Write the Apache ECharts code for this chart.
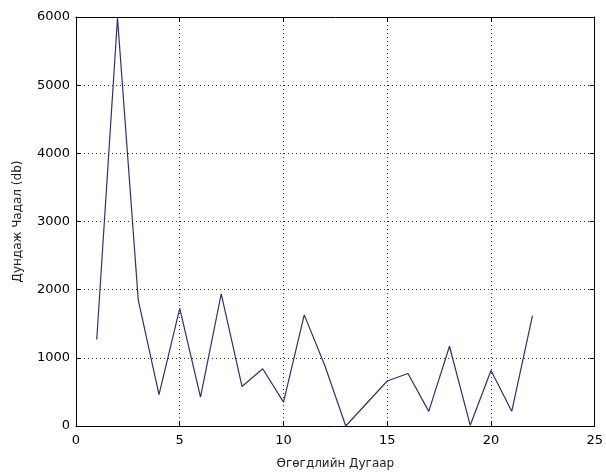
<!DOCTYPE html>
<html>
<head>
<meta charset="utf-8">
<script src="https://cdn.jsdelivr.net/npm/echarts@6/dist/echarts.min.js"></script>
<style>
html,body{margin:0;padding:0;background:#fff;}
#c{width:606px;height:475px;}
</style>
</head>
<body>
<div id="c"></div>
<script>
const xValues = [1,2,3,4,5,6,7,8,9,10,11,12,13,14,15,16,17,18,19,20,21,22];
const powerValues = [1268,5985,1850,460,1727,425,1940,580,840,350,1630,880,0,330,660,770,215,1170,10,815,215,1620];
const xTicks = [0,5,10,15,20,25];
const yTicks = [0,1000,2000,3000,4000,5000,6000];
const xTitle = 'Өгөгдлийн Дугаар';
const yTitle = 'Дундаж Чадал (db)';

const chart = echarts.init(document.getElementById('c'), null, {renderer:'canvas'});
const font = 'DejaVu Sans';
const axisLineStyle = {color:'#000', width:1};
const gridLine = {show:true, lineStyle:{color:'#333', type:[1,3], width:1}};
const plain = v => String(v);
const option = {
  animation:false,
  backgroundColor:'#fff',
  grid:{left:76, right:8, top:17, bottom:48, containLabel:false},
  xAxis:[{
    type:'value', min:xTicks[0], max:xTicks[xTicks.length-1], interval:5,
    position:'bottom',
    axisLine:{show:true, onZero:false, lineStyle:axisLineStyle},
    axisTick:{show:true, inside:true, length:5, lineStyle:axisLineStyle},
    axisLabel:{color:'#000', fontFamily:font, fontSize:13, margin:8, formatter:plain},
    splitLine:gridLine,
    name:xTitle, nameLocation:'middle', nameGap:32,
    nameTextStyle:{color:'#222', fontFamily:font, fontSize:12}
  },{
    type:'value', min:xTicks[0], max:xTicks[xTicks.length-1], interval:5,
    position:'top',
    axisLine:{show:true, onZero:false, lineStyle:axisLineStyle},
    axisTick:{show:true, inside:true, length:5, lineStyle:axisLineStyle},
    axisLabel:{show:false}, splitLine:{show:false}
  }],
  yAxis:[{
    type:'value', min:yTicks[0], max:yTicks[yTicks.length-1], interval:1000,
    position:'left',
    axisLine:{show:true, onZero:false, lineStyle:axisLineStyle},
    axisTick:{show:true, inside:true, length:5, lineStyle:axisLineStyle},
    axisLabel:{color:'#000', fontFamily:font, fontSize:13, margin:6, formatter:plain},
    splitLine:gridLine,
    name:yTitle, nameLocation:'middle', nameGap:52, nameRotate:90,
    nameTextStyle:{color:'#222', fontFamily:font, fontSize:12}
  },{
    type:'value', min:yTicks[0], max:yTicks[yTicks.length-1], interval:1000,
    position:'right',
    axisLine:{show:true, onZero:false, lineStyle:axisLineStyle},
    axisTick:{show:true, inside:true, length:5, lineStyle:axisLineStyle},
    axisLabel:{show:false}, splitLine:{show:false}
  }],
  series:[{
    type:'line',
    xAxisIndex:0, yAxisIndex:0,
    data:xValues.map((x,i)=>[x, powerValues[i]]),
    showSymbol:false, symbol:'none',
    lineStyle:{color:'#2e2e80', width:1.2},
    z:5
  }]
};
chart.setOption(option);
</script>
</body>
</html>
